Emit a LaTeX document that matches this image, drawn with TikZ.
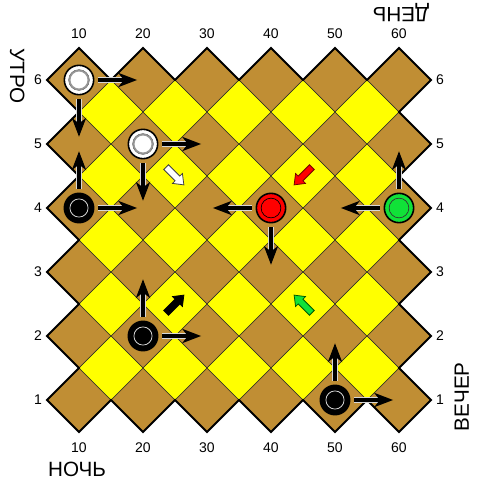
\documentclass[tikz,border=0pt]{standalone}
\usepackage{fontspec}
\setmainfont{Liberation Sans}
\usetikzlibrary{positioning,arrows.meta}
\definecolor{boardbrown}{RGB}{192,142,52}
\definecolor{boardyellow}{RGB}{255,255,0}
\definecolor{piecegreen}{RGB}{16,226,56}
\definecolor{halo}{RGB}{215,215,215}
\tikzset{
  cell/.style={draw=black!85, line width=0.4pt},
  num/.style={font=\fontsize{10.5}{12}\selectfont, inner sep=0pt},
  word/.style={font=\fontsize{15.5}{18}\selectfont, inner sep=0pt, anchor=base},
  piece/.style={circle, draw=black, line width=1.2pt, minimum size=22pt, inner sep=0pt},
  whitepiece/.style={piece, fill=white, path picture={
      \draw[gray!80, line width=1.2pt] (path picture bounding box.center) circle (7pt);
      \draw[black!70, line width=0.3pt] (path picture bounding box.center) circle (7.8pt);}},
  blackpiece/.style={piece, fill=black, path picture={
      \draw[gray!35, line width=0.6pt] (path picture bounding box.center) circle (6.8pt);}},
  redpiece/.style={piece, fill=red, path picture={
      \draw[black, line width=0.5pt] (path picture bounding box.center) circle (7.4pt);}},
  greenpiece/.style={piece, fill=piecegreen, path picture={
      \draw[black!80, line width=0.5pt] (path picture bounding box.center) circle (7.4pt);}},
  move/.style={draw=black, line width=2.6pt, shorten <=3pt,
    -{Stealth[length=14pt, width=10.5pt, inset=4pt]},
    preaction={draw=halo, line width=3.8pt, shorten >=6pt, -}},
  hint/.pic={
    \path[pic actions, line width=0.6pt] (-9.4pt,-2.5pt) -- (2.6pt,-2.5pt) -- (2.6pt,-5.25pt)
      -- (9.4pt,0pt) -- (2.6pt,5.25pt) -- (2.6pt,2.5pt) -- (-9.4pt,2.5pt) -- cycle;}
}
\begin{document}
\begin{tikzpicture}[x=48pt, y=48pt]
  \useasboundingbox (-0.234375,-0.25) rectangle (7.265625,7.25);
  % board
  \foreach \i in {1,...,6}
    \foreach \j in {1,...,6}
      \draw[cell, fill=boardbrown] (\i-0.5,\j) -- (\i,\j+0.5) -- (\i+0.5,\j) -- (\i,\j-0.5) -- cycle;
  \foreach \i in {1,...,5}
    \foreach \j in {1,...,5}
      \draw[cell, fill=boardyellow] (\i,\j+0.5) -- (\i+0.5,\j+1) -- (\i+1,\j+0.5) -- (\i+0.5,\j) -- cycle;
  \draw[line width=1.5pt, line join=miter] (0.5,6)
    \foreach \i in {1,...,6} { -- (\i,6.5) -- (\i+0.5,6) }
    \foreach \j in {5,...,1} { -- (6,\j+0.5) -- (6.5,\j) }
    \foreach \i in {6,...,1} { -- (\i,0.5) -- (\i-0.5,1) }
    \foreach \j in {2,...,6} { -- (1,\j-0.5) -- (0.5,\j) } -- cycle;
  % labels
  \foreach \i [evaluate=\i as \val using int(10*\i)] in {1,...,6} {
    \node[num] (top\i) at (\i,6.72) {\val};
    \node[num] (bot\i) at (\i,0.25) {\val};
    \node[num] (lft\i) at (0.36,\i) {\i};
    \node[num] (rgt\i) at (6.64,\i) {\i};
  }
  \node[word, rotate=-90] (morning) at (-0.078,6.06) {УТРО};
  \node[word, rotate=180] (day) at (6.03,7.13) {ДЕНЬ};
  \node[word, rotate=90] (evening) at (7.09,1.05) {ВЕЧЕР};
  \node[word] (night) at (0.97,-0.19) {НОЧЬ};
  % hints
  \pic[fill=white, draw=black!75, rotate=-45] (hw) at (2.5,4.5) {hint};
  \pic[fill=red, draw=red!45!black, rotate=-135] (hr) at (4.5,4.5) {hint};
  \pic[fill=black, draw=black, rotate=45] (hb) at (2.5,2.5) {hint};
  \pic[fill=piecegreen, draw=green!35!black, rotate=135] (hg) at (4.5,2.5) {hint};
  % pieces
  \node[whitepiece] (W16) at (1,6) {};
  \node[whitepiece] (W25) at (2,5) {};
  \node[blackpiece] (B14) at (1,4) {};
  \node[redpiece] (R44) at (4,4) {};
  \node[greenpiece] (G64) at (6,4) {};
  \node[blackpiece] (B22) at (2,2) {};
  \node[blackpiece] (B51) at (5,1) {};
  \coordinate[right=32pt of W16] (W16r);
  \coordinate[below=31pt of W16] (W16d);
  \coordinate[right=32pt of W25] (W25r);
  \coordinate[below=31pt of W25] (W25d);
  \coordinate[above=31pt of B14] (B14u);
  \coordinate[right=32pt of B14] (B14r);
  \coordinate[left=32pt of R44] (R44l);
  \coordinate[below=31pt of R44] (R44d);
  \coordinate[left=32pt of G64] (G64l);
  \coordinate[above=31pt of G64] (G64u);
  \coordinate[above=31pt of B22] (B22u);
  \coordinate[right=32pt of B22] (B22r);
  \coordinate[above=31pt of B51] (B51u);
  \coordinate[right=32pt of B51] (B51r);
  % moves
  \draw[move] (W16) -- (W16r);
  \draw[move] (W16) -- (W16d);
  \draw[move] (W25) -- (W25r);
  \draw[move] (W25) -- (W25d);
  \draw[move] (B14) -- (B14u);
  \draw[move] (B14) -- (B14r);
  \draw[move] (R44) -- (R44l);
  \draw[move] (R44) -- (R44d);
  \draw[move] (G64) -- (G64l);
  \draw[move] (G64) -- (G64u);
  \draw[move] (B22) -- (B22u);
  \draw[move] (B22) -- (B22r);
  \draw[move] (B51) -- (B51u);
  \draw[move] (B51) -- (B51r);
\end{tikzpicture}
\end{document}
